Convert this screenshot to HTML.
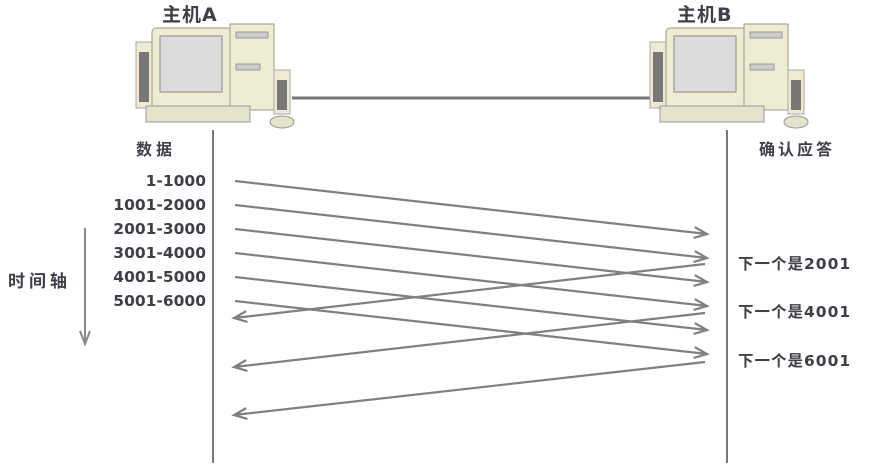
<!DOCTYPE html>
<html><head><meta charset="utf-8"><style>
body{margin:0;background:#fff;}
svg text{font-family:"DejaVu Sans","Noto Sans CJK SC",sans-serif;fill:#3f3f48;font-weight:bold;}
</style></head><body>
<svg width="871" height="471" viewBox="0 0 871 471">
<defs>
<g id="pc">
  <rect x="-36" y="42" width="16" height="66" fill="#eeebd2" stroke="#aaa"/>
  <rect x="-33" y="52" width="10" height="50" fill="#777"/>
  <rect x="-20" y="28" width="80" height="80" rx="4" fill="#efecd4" stroke="#9a9a88"/>
  <rect x="-12" y="36" width="62" height="56" fill="#dcdcdc" stroke="#888"/>
  <rect x="58" y="24" width="44" height="86" fill="#efecd4" stroke="#9a9a88"/>
  <rect x="64" y="32" width="32" height="6" fill="#ccc" stroke="#999"/>
  <rect x="64" y="64" width="24" height="6" fill="#ccc" stroke="#999"/>
  <rect x="102" y="70" width="16" height="44" fill="#eeebd2" stroke="#aaa"/>
  <rect x="105" y="80" width="10" height="30" fill="#777"/>
  <rect x="-26" y="106" width="104" height="16" fill="#e6e3cc" stroke="#999"/>
  <ellipse cx="110" cy="122" rx="12" ry="6" fill="#e6e3cc" stroke="#999"/>
</g>
</defs>
<line x1="292" y1="98" x2="655" y2="98" stroke="#777" stroke-width="3"/>
<use href="#pc" x="172" y="0"/>
<use href="#pc" x="686" y="0"/>
<text x="162" y="21" font-size="19" letter-spacing="1">主机A</text>
<text x="677" y="21" font-size="19" letter-spacing="1">主机B</text>
<line x1="213" y1="130" x2="213" y2="463" stroke="#777" stroke-width="2"/>
<line x1="727" y1="130" x2="727" y2="463" stroke="#777" stroke-width="2"/>
<text x="136" y="155" font-size="16" letter-spacing="4">数据</text>
<text x="759" y="155" font-size="16" letter-spacing="3">确认应答</text>
<g font-size="15.5" text-anchor="end">
<text x="206" y="186">1-1000</text><text x="206" y="210">1001-2000</text><text x="206" y="234">2001-3000</text>
<text x="206" y="258">3001-4000</text><text x="206" y="282">4001-5000</text><text x="206" y="306">5001-6000</text>
</g>
<g font-size="15.5" letter-spacing="1">
<text x="738" y="269">下一个是2001</text><text x="738" y="317">下一个是4001</text><text x="738" y="366">下一个是6001</text>
</g>
<text x="8" y="287" font-size="17" letter-spacing="4">时间轴</text>
<g stroke="#888" stroke-width="2" fill="none">
<line x1="85" y1="228" x2="85" y2="343"/><polyline points="80,331 85,344 90,331"/>
</g>
<g id="arrows" stroke="#808080" stroke-width="2.2" fill="none"></g>
</svg>
<script>
const fwdStart=[181,205,229,253,277,301];
const fwdEnd=[234,258,282,306,330,354];
const ackStart=[264,313,362];
const ackEnd=[318,367,415];
const g=document.getElementById('arrows');
const NS='http://www.w3.org/2000/svg';
function arrow(x1,y1,x2,y2,name){
  const p=document.createElementNS(NS,'path');
  const a=Math.atan2(y2-y1,x2-x1),L=14,s=0.4;
  const h1=[x2-L*Math.cos(a-s),y2-L*Math.sin(a-s)],h2=[x2-L*Math.cos(a+s),y2-L*Math.sin(a+s)];
  p.setAttribute('d',`M${x1},${y1}L${x2},${y2}M${h1}L${x2},${y2}L${h2}`);
  
  
  g.appendChild(p);
}
fwdStart.forEach((y,i)=>arrow(235,y,707,fwdEnd[i],'data-segment-arrow'));
ackStart.forEach((y,i)=>arrow(705,y,234,ackEnd[i],'ack-arrow'));
</script>
</body></html>
